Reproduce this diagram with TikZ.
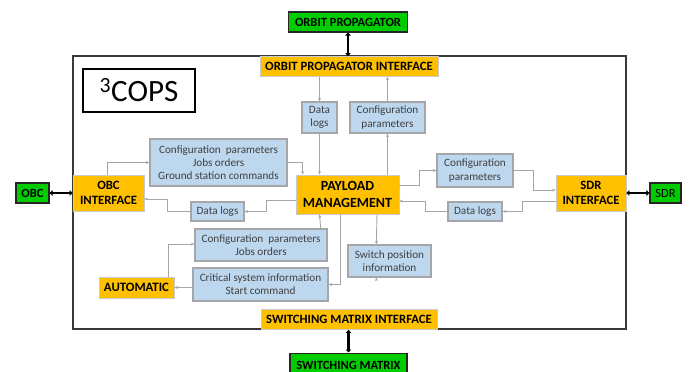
\documentclass[tikz,border=0pt]{standalone}
\usepackage{fontspec}
\setmainfont{Carlito}
\usetikzlibrary{arrows.meta,calc}
\definecolor{orng}{HTML}{FFC000}
\definecolor{lblue}{HTML}{BDD7EE}
\definecolor{bgray}{HTML}{A6A6A6}
\definecolor{grn}{HTML}{00CC00}
\definecolor{frm}{HTML}{3A3A3A}
\begin{document}
\begin{tikzpicture}[x=1pt,y=-1pt,
  orbox/.style={draw=bgray!60,line width=0.8pt,fill=orng,inner sep=0pt,align=center,font=\bfseries\fontsize{12.7}{15.5}\selectfont},
  grbox/.style={draw=black!85,line width=1.2pt,fill=grn,inner sep=0pt,align=center,font=\bfseries\fontsize{12.5}{14}\selectfont},
  blbox/.style={draw=bgray,line width=1.3pt,fill=lblue,inner sep=0pt,align=center,text=black!75,font=\fontsize{11.2}{13.3}\selectfont},
  conn/.style={draw=bgray,line width=0.9pt,-{Stealth[length=3.5pt,width=3pt]}},
  dbl/.style={draw=black,line width=2.3pt,{Triangle[length=3pt,width=5.5pt]}-{Triangle[length=3pt,width=5.5pt]}}
]
\useasboundingbox (0,0) rectangle (689,372);
% frame
\draw[frm,line width=1.5pt] (73,56) rectangle (626,329);
% title
\node[draw=black,line width=1.3pt,fill=white,minimum width=112pt,minimum height=43pt,inner sep=0pt,font=\fontsize{31}{34}\selectfont] (title) at (139,90.5) {\textsuperscript{3}COPS};
% orange
\node[orbox,minimum width=178pt,minimum height=20pt] (opi) at (349,66.5) {ORBIT PROPAGATOR INTERFACE};
\node[orbox,minimum width=71pt,minimum height=36pt] (obci) at (108.5,193) {OBC\\INTERFACE};
\node[orbox,minimum width=70pt,minimum height=36pt] (sdri) at (591,193) {SDR\\INTERFACE};
\node[orbox,minimum width=103pt,minimum height=39pt,font=\bfseries\fontsize{14}{16.5}\selectfont] (pm) at (347.5,194.5) {PAYLOAD\\MANAGEMENT};
\node[orbox,minimum width=75pt,minimum height=21pt,font=\bfseries\fontsize{12.8}{14}\selectfont] (auto) at (136.5,287.5) {AUTOMATIC};
\node[orbox,minimum width=176pt,minimum height=20pt] (smi) at (349,319.5) {SWITCHING MATRIX INTERFACE};
% green
\node[grbox,minimum width=119pt,minimum height=20pt] (op) at (348,22) {ORBIT PROPAGATOR};
\node[grbox,minimum width=33pt,minimum height=20pt] (obc) at (32.5,193) {OBC};
\node[grbox,minimum width=31pt,minimum height=20pt,font=\fontsize{12.5}{14}\selectfont] (sdr) at (665.5,193) {SDR};
\node[grbox,minimum width=117pt,minimum height=24pt,anchor=north] (sm) at (348.5,352.5) {SWITCHING MATRIX};
% blue
\node[blbox,minimum width=35pt,minimum height=31pt] (dl1) at (319.5,117.5) {Data\\logs};
\node[blbox,minimum width=75pt,minimum height=31pt] (cp1) at (387.5,117.5) {Configuration\\parameters};
\node[blbox,minimum width=137pt,minimum height=47pt] (cjg) at (218.5,162.5) {Configuration\ \ parameters\\Jobs orders\\Ground station commands};
\node[blbox,minimum width=53pt,minimum height=19pt] (dl2) at (217.5,211.5) {Data logs};
\node[blbox,minimum width=132pt,minimum height=32pt] (cj) at (261,245) {Configuration\ \ parameters\\Jobs orders};
\node[blbox,minimum width=135pt,minimum height=33pt] (cs) at (260.5,284.5) {Critical system information\\Start command};
\node[blbox,minimum width=83pt,minimum height=32pt] (sp) at (389.5,261) {Switch position\\information};
\node[blbox,minimum width=76pt,minimum height=33pt] (cp2) at (475,170.5) {Configuration\\parameters};
\node[blbox,minimum width=54pt,minimum height=19pt] (dl3) at (475,211.5) {Data logs};
% connectors
\draw[conn] (dl1.north |- opi.south) -- (dl1.north);
\draw[conn] (dl1.south) -- (dl1.south |- pm.north);
\draw[conn] (cp1.south |- pm.north) -- (cp1.south);
\draw[conn] (cp1.north) -- (cp1.north |- opi.south);
\draw[conn] ($(obci.north)+(-1.5,0)$) |- (cjg.west);
\draw[conn] (cjg.east) -| ($(pm.north west)+(7,0)$);
\draw[conn] ($(pm.west)+(0,5.5)$) -- ++(-29,0) |- (dl2.east);
\draw[conn] (dl2.west) -- ++(-23,0) |- ($(obci.east)+(0,6)$);
\draw[conn] ($(auto.north east)+(-6,0)$) |- ($(cj.west)+(0,-1)$);
\draw[conn] ($(cj.north east)+(-7,0)$) -- ($(pm.south west)+(24,0)$);
\draw[conn] ($(pm.south)+(-7.5,0)$) |- (cs.east);
\draw[conn] (cs.west |- auto.east) -- (auto.east);
\draw[conn] ($(pm.south)+(29.5,0)$) -- ($(sp.north west)+(29,0)$);
\draw[conn] ($(sp.south west)+(29,0)$) -- ($(sp.south west)+(29,0)$ |- smi.north);
\draw[conn] ($(pm.east)+(0,-9.5)$) -- ++(20,0) |- (cp2.west);
\draw[conn] (cp2.east) -- ++(20,0) |- ($(sdri.west)+(0,-3)$);
\draw[conn] ($(sdri.west)+(0,8)$) -- ++(-33,0) |- (dl3.east);
\draw[conn] (dl3.west) -- ++(-22,0) |- ($(pm.east)+(0,6.5)$);
% double arrows
\draw[dbl] (op.south) -- (op.south |- opi.north);
\draw[dbl] (obc.east) -- (obci.west);
\draw[dbl] (sdri.east) -- (sdr.west);
\draw[dbl] (smi.south -| sm.north) -- (sm.north);
\end{tikzpicture}
\end{document}
